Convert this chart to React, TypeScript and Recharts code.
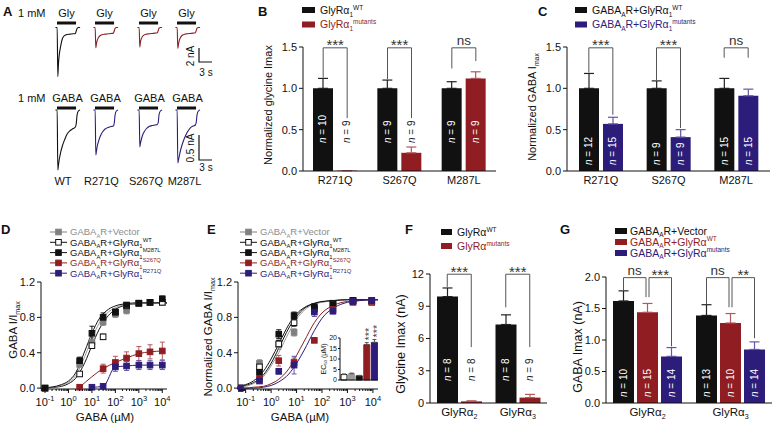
import React from 'react';
import {
  BarChart, Bar, XAxis, YAxis, ErrorBar, LabelList, ReferenceLine, Cell,
  LineChart, Line, ComposedChart, Scatter,
} from 'recharts';

const FONT = '"Liberation Sans", Arial, Helvetica, sans-serif';
const INK = '#111111';
const RED = '#8f1d21';
const BLUE = '#2d1d7a';
const GRAY = '#808080';
const RED_ERR = '#b4585c';
const BLUE_ERR = '#6356a6';
const LINE_GRAY = '#555555';

// ---------- A: example currents (nA) ----------
const traceGroups = ['WT', 'R271Q', 'S267Q', 'M287L'];
const traceTime = [-0.4, 0, 0.15, 0.3, 0.5, 0.8, 1.2, 1.7, 2.3, 3.0, 3.7, 4.2, 4.4, 4.6, 4.9, 5.3];
const glyTraces = [
  [0, 0, -7.0, -5.2, -3.8, -2.7, -1.6, -1.15, -1.0, -0.95, -0.9, -0.85, -0.5, -0.15, 0, 0],
  [0, 0, -2.9, -2.3, -1.8, -1.4, -1.15, -1.0, -0.95, -0.9, -0.85, -0.8, -0.5, -0.15, 0, 0],
  [0, 0, -2.8, -2.1, -1.6, -1.25, -1.05, -0.95, -0.9, -0.85, -0.8, -0.75, -0.45, -0.1, 0, 0],
  [0, 0, -3.0, -2.4, -1.85, -1.4, -1.1, -0.95, -0.9, -0.85, -0.8, -0.75, -0.45, -0.1, 0, 0],
];
const gabaTraces = [
  [0, 0, -1.2, -1.1, -0.98, -0.85, -0.72, -0.6, -0.48, -0.41, -0.37, -0.34, -0.28, -0.1, -0.02, 0],
  [0, 0, -0.9, -0.82, -0.72, -0.62, -0.52, -0.44, -0.38, -0.35, -0.33, -0.32, -0.27, -0.1, -0.02, 0],
  [0, 0, -0.74, -0.67, -0.59, -0.5, -0.43, -0.37, -0.33, -0.31, -0.3, -0.29, -0.25, -0.09, -0.02, 0],
  [0, 0, -1.06, -1.0, -0.92, -0.8, -0.68, -0.56, -0.45, -0.36, -0.32, -0.3, -0.25, -0.09, -0.02, 0],
];
const applySeconds = 4.4;
const glyScaleBar = { nA: 2, s: 3 };
const gabaScaleBar = { nA: 0.5, s: 3 };

// ---------- B / C: normalized Imax ----------
const mutantSites = ['R271Q', 'S267Q', 'M287L'];
const glyWtMean = [1.0, 1.0, 1.0];
const glyWtSem = [0.12, 0.1, 0.08];
const glyMutMean = [0.005, 0.22, 1.12];
const glyMutSem = [0.0, 0.07, 0.08];
const glyWtN = [10, 9, 9];
const glyMutN = [9, 9, 9];
const glyBrackets = [
  { cat: 'R271Q', from: 0, to: 1, top: 1.49, left: 1.13, right: 0.64, mark: '***' },
  { cat: 'S267Q', from: 0, to: 1, top: 1.49, left: 1.11, right: 0.64, mark: '***' },
  { cat: 'M287L', from: 0, to: 1, top: 1.49, left: 1.24, right: 1.33, mark: 'ns' },
];

const gabaWtMean = [1.0, 1.0, 1.0];
const gabaWtSem = [0.18, 0.09, 0.12];
const gabaMutMean = [0.57, 0.41, 0.91];
const gabaMutSem = [0.08, 0.09, 0.08];
const gabaWtN = [12, 9, 15];
const gabaMutN = [15, 9, 15];
const gabaBrackets = [
  { cat: 'R271Q', from: 0, to: 1, top: 1.49, left: 1.19, right: 0.68, mark: '***' },
  { cat: 'S267Q', from: 0, to: 1, top: 1.49, left: 1.1, right: 0.52, mark: '***' },
  { cat: 'M287L', from: 0, to: 1, top: 1.49, left: 1.37, right: 1.37, mark: 'ns' },
];

// ---------- D / E: GABA dose-response ----------
const dConc = [0.1, 3, 10, 30, 100, 300, 1000, 3000, 10000];
const dVector = [0, 0.27, 0.52, 0.75, 0.84, 0.88, 0.96, 0.97, 0.97];
const dVectorSem = [0.01, 0.03, 0.05, 0.04, 0.04, 0.04, 0.03, 0.03, 0.03];
const dWt = [0, 0.16, 0.48, 0.58, 0.86, 0.93, 0.96, 0.97, 0.97];
const dWtSem = [0.01, 0.02, 0.03, 0.03, 0.03, 0.02, 0.02, 0.02, 0.02];
const dM287L = [0, 0.31, 0.62, 0.8, 0.86, 0.94, 0.96, 0.97, 1.01];
const dM287LSem = [0.01, 0.04, 0.08, 0.05, 0.03, 0.02, 0.02, 0.02, 0.03];
const dS267QConc = [3, 30, 100, 300, 1000, 3000, 10000];
const dS267Q = [0.01, 0.22, 0.29, 0.34, 0.39, 0.41, 0.42];
const dS267QSem = [0.01, 0.05, 0.07, 0.07, 0.08, 0.08, 0.1];
const dR271QConc = [10, 30, 100, 300, 1000, 3000, 10000];
const dR271Q = [0.01, 0.02, 0.24, 0.25, 0.26, 0.26, 0.26];
const dR271QSem = [0.01, 0.01, 0.05, 0.05, 0.05, 0.05, 0.05];

const fitConc = [0.05, 0.1, 0.2, 0.5, 1, 2, 5, 10, 20, 50, 100, 300, 1000, 3000, 10000, 20000];
const dFitM287L = [0.002, 0.005, 0.012, 0.04, 0.08, 0.17, 0.42, 0.62, 0.78, 0.89, 0.93, 0.955, 0.965, 0.965, 0.965, 0.965];
const dFitVector = [0.001, 0.004, 0.01, 0.03, 0.065, 0.14, 0.36, 0.56, 0.73, 0.86, 0.91, 0.945, 0.955, 0.96, 0.96, 0.96];
const dFitWt = [0.001, 0.003, 0.007, 0.02, 0.05, 0.11, 0.29, 0.48, 0.66, 0.82, 0.89, 0.94, 0.955, 0.96, 0.96, 0.96];

const eConc = [0.06, 0.35, 2, 8, 50, 270, 1650, 9000];
const eVector = [0, 0.28, 0.49, 0.63, 0.9, 0.95, 0.99, 0.99];
const eVectorSem = [0.01, 0.04, 0.05, 0.04, 0.03, 0.02, 0.01, 0.01];
const eWt = [0, 0.24, 0.5, 0.74, 0.9, 0.96, 0.99, 0.97];
const eWtSem = [0.01, 0.03, 0.04, 0.04, 0.03, 0.02, 0.01, 0.01];
const eM287L = [0, 0.18, 0.61, 0.82, 0.92, 0.95, 0.99, 0.99];
const eM287LSem = [0.01, 0.03, 0.05, 0.04, 0.03, 0.02, 0.01, 0.01];
const eS267Q = [0, 0.11, 0.31, 0.29, 0.54, 0.89, 0.97, 0.98];
const eS267QSem = [0.01, 0.03, 0.06, 0.05, 0.02, 0.03, 0.02, 0.01];
const eR271Q = [0, 0.08, 0.19, 0.26, 0.86, 0.87, 0.98, 0.99];
const eR271QSem = [0.01, 0.02, 0.03, 0.1, 0.05, 0.03, 0.01, 0.01];
const eFitM287L = [0.02, 0.04, 0.08, 0.19, 0.33, 0.5, 0.72, 0.84, 0.91, 0.96, 0.98, 0.99, 1, 1, 1, 1];
const eFitVector = [0.01, 0.02, 0.05, 0.13, 0.25, 0.4, 0.63, 0.78, 0.88, 0.95, 0.97, 0.99, 1, 1, 1, 1];
const eFitWt = [0.01, 0.03, 0.06, 0.15, 0.28, 0.45, 0.68, 0.81, 0.9, 0.955, 0.975, 0.99, 1, 1, 1, 1];
const eFitS267Q = [0, 0, 0.01, 0.02, 0.05, 0.1, 0.22, 0.37, 0.53, 0.74, 0.85, 0.94, 0.98, 0.99, 1, 1];
const eFitR271Q = [0, 0, 0, 0.01, 0.03, 0.07, 0.16, 0.28, 0.43, 0.65, 0.79, 0.91, 0.97, 0.99, 1, 1];

const ec50Groups = ['WT', 'Vector', 'M287L', 'S267Q', 'R271Q'];
const ec50Mean = [2.6, 3.0, 2.0, 16.8, 17.9];
const ec50Sem = [0.3, 0.3, 0.2, 1.0, 1.4];
const ec50Sig = ['', '', '', '***', '***'];

const doseLabels = [
  'GABA_{A}R+Vector',
  'GABA_{A}R+GlyRα_{1}^{WT}',
  'GABA_{A}R+GlyRα_{1}^{M287L}',
  'GABA_{A}R+GlyRα_{1}^{S267Q}',
  'GABA_{A}R+GlyRα_{1}^{R271Q}',
];

// ---------- F / G: GlyRα2 and α3 ----------
const subunits = ['GlyRα_{2}', 'GlyRα_{3}'];
const fWtMean = [9.9, 7.3];
const fWtSem = [0.8, 0.9];
const fMutMean = [0.15, 0.5];
const fMutSem = [0.05, 0.3];
const fWtN = [8, 8];
const fMutN = [8, 9];
const fBrackets = [
  { cat: subunits[0], from: 0, to: 1, top: 11.98, left: 10.8, right: 5.2, mark: '***' },
  { cat: subunits[1], from: 0, to: 1, top: 11.98, left: 8.9, right: 5.2, mark: '***' },
];

const gVecMean = [1.62, 1.39];
const gVecSem = [0.16, 0.17];
const gWtMean = [1.44, 1.27];
const gWtSem = [0.14, 0.15];
const gMutMean = [0.74, 0.85];
const gMutSem = [0.14, 0.12];
const gVecN = [10, 13];
const gWtN = [15, 10];
const gMutN = [14, 14];
const gBrackets = [
  { cat: subunits[0], from: 0, to: 1, top: 1.99, left: 1.79, right: 1.68, mark: 'ns' },
  { cat: subunits[0], from: 1, to: 2, top: 1.99, left: 1.68, right: 0.9, mark: '***' },
  { cat: subunits[1], from: 0, to: 1, top: 1.99, left: 1.57, right: 1.52, mark: 'ns' },
  { cat: subunits[1], from: 1, to: 2, top: 1.99, left: 1.52, right: 1.03, mark: '**' },
];

// ---------- helpers ----------
function Rich({ s, x, y, size, fill = INK, anchor = 'start', rot = 0, weight = 'normal' }: any) {
  const parts = String(s).split(/(_\{[^}]*\}|\^\{[^}]*\})/).filter((p) => p.length > 0);
  let shift = 0;
  return (
    <text x={x} y={y} fontSize={size} fill={fill} textAnchor={anchor} fontWeight={weight} fontFamily={FONT}
      transform={rot ? `rotate(${rot} ${x} ${y})` : undefined}>
      {parts.map((p, i) => {
        let target = 0;
        let txt = p;
        let fs = size;
        if (p.startsWith('_{')) { target = size * 0.28; txt = p.slice(2, -1); fs = size * 0.62; }
        else if (p.startsWith('^{')) { target = -size * 0.42; txt = p.slice(2, -1); fs = size * 0.62; }
        const dy = target - shift;
        shift = target;
        return <tspan key={i} dy={dy} fontSize={fs}>{txt}</tspan>;
      })}
    </text>
  );
}

// vertical axis title centred on (cx, cy)
const VTitle = ({ s, cx, cy, size = 11 }: any) => (
  <Rich s={s} x={cx + size * 0.36} y={cy} size={size} anchor="middle" rot={-90} />
);

const viewOf = (p: any) => (p.viewBox && typeof p.viewBox.width === 'number' ? p.viewBox : p);

const nLabel = (lift: number) => (p: any) => {
  const { x, y, width, height } = viewOf(p);
  if (x == null) return null;
  const base = y + height - lift;
  const len = String(p.value).length > 1 ? 27 : 22;
  const inside = y < base - len;
  return (
    <text transform={`translate(${x + width / 2 + 3.4},${base}) rotate(-90)`} fontSize={10}
      fill={inside ? '#ffffff' : '#222222'} fontFamily={FONT}>
      <tspan fontStyle="italic">n</tspan> = {p.value}
    </text>
  );
};

const bracketShape = (br: any, offsets: number[]) => (p: any) => {
  const { x1, y1, y2 } = p;
  if (x1 == null) return <g />;
  const per = (y2 - y1) / (br.top - br.left);
  const yR = y1 + (br.right - br.left) * per;
  let xl = x1 + offsets[br.from];
  let xr = x1 + offsets[br.to];
  if (offsets.length === 3) {
    if (br.from === 1) xl += 1.5;
    if (br.to === 1) xr -= 1.5;
  }
  const stars = br.mark !== 'ns';
  return (
    <g>
      <path d={`M${xl},${y1}V${y2}H${xr}V${yR}`} fill="none" stroke={LINE_GRAY} strokeWidth={1} />
      <text x={(xl + xr) / 2} y={stars ? y2 + 2.5 : y2 - 3} textAnchor="middle" fontSize={stars ? 15 : 13.5}
        fill="#333" fontFamily={FONT}>{br.mark}</text>
    </g>
  );
};

const CatTick = (p: any) => (
  <Rich s={p.payload.value} x={p.x} y={p.y + 13} size={p.size} anchor="middle" />
);

function BarPanel({ data, series, plot, yAxisW, yDomain, yTicks, yFmt, barSize, barGap, brackets, lift, catSize, padRight }: any) {
  const [l, t, r, b] = plot;
  const xh = 22;
  const padTop = 14;
  const k = series.length;
  const offsets = series.map((_: any, i: number) => (i - (k - 1) / 2) * (barSize + barGap));
  return (
    <div style={{ position: 'absolute', left: l - yAxisW, top: t - padTop }}>
      <BarChart width={r - l + yAxisW + padRight} height={b - t + padTop + xh} data={data}
        margin={{ top: padTop, right: padRight, bottom: 0, left: 0 }} barSize={barSize} barGap={barGap}>
        <XAxis dataKey="cat" interval={0} tickLine={false} tickSize={0} tickMargin={0} height={xh}
          axisLine={{ stroke: INK }} tick={(p: any) => <CatTick {...p} size={catSize} />} />
        <YAxis width={yAxisW} domain={yDomain} ticks={yTicks} interval={0} tickFormatter={yFmt}
          tickSize={4} tickMargin={2} axisLine={{ stroke: INK }} tickLine={{ stroke: INK }}
          tick={{ fontSize: 11, fill: INK, fontFamily: FONT }} />
        {series.map((s: any) => (
          <Bar key={s.key} dataKey={s.key} fill={s.fill} isAnimationActive={false}>
            <ErrorBar dataKey={s.eKey} width={5} stroke={s.err} strokeWidth={1.2} />
            <LabelList dataKey={s.nKey} content={nLabel(lift)} />
          </Bar>
        ))}
        {brackets.map((br: any, i: number) => (
          <ReferenceLine key={i} ifOverflow="visible"
            segment={[{ x: br.cat, y: br.left }, { x: br.cat, y: br.top }]}
            shape={bracketShape(br, offsets)} />
        ))}
      </BarChart>
    </div>
  );
}

// ---------- D / E ----------
const D_DOMAIN = [0.0676, 15849];
const E_DOMAIN = [0.0501, 15849];
const ticksFor = (dom: number[]) => {
  const out: number[] = [];
  for (let e = -2; e <= 4; e++) {
    for (let m = 1; m <= 9; m++) {
      const v = m * Math.pow(10, e);
      if (v >= dom[0] && v <= dom[1]) out.push(v);
    }
  }
  return out;
};

const LogTick = (p: any) => {
  const v = p.payload.value;
  const e = Math.round(Math.log10(v));
  const major = Math.abs(Math.log10(v) - e) < 1e-6;
  return (
    <g>
      <line x1={p.x} x2={p.x} y1={p.y} y2={p.y + (major ? 4 : 2)} stroke={INK} strokeWidth={1} />
      {major && (
        <text x={p.x} y={p.y + 16.5} textAnchor="middle" fontSize={11} fill={INK} fontFamily={FONT}>
          10<tspan dy={-4.5} fontSize={7.5}>{e}</tspan>
        </text>
      )}
    </g>
  );
};

const toPts = (conc: number[], vals: number[], sem?: number[]) =>
  conc.map((c, i) => ({ c, v: vals[i], e: sem ? sem[i] : 0 }));

const square = (fill: string, stroke: string) => (p: any) => (
  <rect x={p.cx - 2.8} y={p.cy - 2.8} width={5.6} height={5.6} fill={fill} stroke={stroke} strokeWidth={1} />
);

function DosePanel({ plot, domain, fits, sets }: any) {
  const [l, t, r, b] = plot;
  const yw = 32;
  const xh = 24;
  const pt = 6;
  const pr = 4;
  return (
    <div style={{ position: 'absolute', left: l - yw, top: t - pt }}>
      <ComposedChart width={r - l + yw + pr} height={b - t + pt + xh} margin={{ top: pt, right: pr, bottom: 0, left: 0 }}>
        <XAxis dataKey="c" type="number" scale="log" domain={domain} allowDataOverflow ticks={ticksFor(domain)}
          interval={0} tickLine={false} tickSize={0} tickMargin={0} height={xh} axisLine={{ stroke: INK }}
          tick={(p: any) => <LogTick {...p} />} />
        <YAxis type="number" domain={[0, 1.2]} ticks={[0, 0.4, 0.8, 1.2]} interval={0} width={yw}
          tickFormatter={(v: number) => v.toFixed(1)} tickSize={4} tickMargin={2}
          axisLine={{ stroke: INK }} tickLine={{ stroke: INK }} tick={{ fontSize: 11, fill: INK, fontFamily: FONT }} />
        {fits.map((f: any, i: number) => (
          <Line key={'f' + i} data={f.data} dataKey="v" type="monotone" stroke={f.color} strokeWidth={1}
            dot={false} isAnimationActive={false} />
        ))}
        {sets.map((s: any, i: number) => (
          <Scatter key={'s' + i} data={s.data} dataKey="v" fill={s.fill} shape={square(s.fill, s.stroke)} isAnimationActive={false}>
            <ErrorBar dataKey="e" direction="y" width={2.5} stroke={s.err} strokeWidth={1} />
          </Scatter>
        ))}
      </ComposedChart>
    </div>
  );
}

const sigLabel = (p: any) => {
  const { x, y, width, height } = viewOf(p);
  if (!p.value || x == null) return null;
  const i = p.index;
  const per = height / ec50Mean[i];
  const bottom = y - ec50Sem[i] * per - 2;
  return (
    <text transform={`translate(${x + width / 2 + 6.2},${bottom}) rotate(-90)`} fontSize={11} fill="#444" fontFamily={FONT}>
      {p.value}
    </text>
  );
};

// ---------- A ----------
const PX_PER_S = 4.33;
const onsets = [57, 95, 139, 177];
const rowTop = { pxPerNA: 7, base: 27, domain: [-8, 0.5] };
const rowBottom = { pxPerNA: 50, base: 110, domain: [-1.3, 0.1] };

function Trace({ values, color, onset, row }: any) {
  const data = traceTime.map((t, i) => ({ t, i: values[i] }));
  const h = (row.domain[1] - row.domain[0]) * row.pxPerNA;
  return (
    <div style={{ position: 'absolute', left: onset - 0.5 * PX_PER_S, top: row.base - row.domain[1] * row.pxPerNA }}>
      <LineChart width={6 * PX_PER_S} height={h} data={data} margin={{ top: 0, right: 0, bottom: 0, left: 0 }}>
        <XAxis dataKey="t" type="number" domain={[-0.5, 5.5]} hide />
        <YAxis type="number" domain={row.domain} hide />
        <Line dataKey="i" type="monotone" stroke={color} strokeWidth={1.1} dot={false} isAnimationActive={false} />
      </LineChart>
    </div>
  );
}

export default function App() {
  const bData = mutantSites.map((cat, i) => ({
    cat, wt: glyWtMean[i], wtE: [0, glyWtSem[i]], wtN: glyWtN[i],
    mut: glyMutMean[i], mutE: [0, glyMutSem[i]], mutN: glyMutN[i],
  }));
  const cData = mutantSites.map((cat, i) => ({
    cat, wt: gabaWtMean[i], wtE: [0, gabaWtSem[i]], wtN: gabaWtN[i],
    mut: gabaMutMean[i], mutE: [0, gabaMutSem[i]], mutN: gabaMutN[i],
  }));
  const fData = subunits.map((cat, i) => ({
    cat, wt: fWtMean[i], wtE: [0, fWtSem[i]], wtN: fWtN[i],
    mut: fMutMean[i], mutE: [0, fMutSem[i]], mutN: fMutN[i],
  }));
  const gData = subunits.map((cat, i) => ({
    cat, vec: gVecMean[i], vecE: [0, gVecSem[i]], vecN: gVecN[i],
    wt: gWtMean[i], wtE: [0, gWtSem[i]], wtN: gWtN[i],
    mut: gMutMean[i], mutE: [0, gMutSem[i]], mutN: gMutN[i],
  }));
  const ec50Data = ec50Groups.map((g, i) => ({ g, v: ec50Mean[i], e: [0, ec50Sem[i]], sig: ec50Sig[i] }));
  const ec50Fill = ['#ffffff', '#9a9a9a', INK, RED, BLUE];

  const doseStyle = [
    { text: '#8c8c8c', line: GRAY, fill: GRAY, stroke: GRAY },
    { text: INK, line: INK, fill: '#ffffff', stroke: INK },
    { text: INK, line: INK, fill: INK, stroke: INK },
    { text: RED, line: RED, fill: RED, stroke: RED },
    { text: BLUE, line: BLUE, fill: BLUE, stroke: BLUE },
  ];

  const dLegend = (lx: number) => doseLabels.map((lab, i) => {
    const cy = 232 + 10.3 * i;
    const st = doseStyle[i];
    return (
      <g key={lab + lx}>
        <line x1={lx} x2={lx + 17} y1={cy} y2={cy} stroke={st.line} strokeWidth={1} />
        <rect x={lx + 5.7} y={cy - 2.8} width={5.6} height={5.6} fill={st.fill} stroke={st.stroke} />
        <Rich s={lab} x={lx + 20} y={cy + 3.3} size={9.5} fill={st.text} />
      </g>
    );
  });

  const topScale = glyScaleBar.nA * rowTop.pxPerNA;
  const botScale = gabaScaleBar.nA * rowBottom.pxPerNA;
  const sLen = glyScaleBar.s * PX_PER_S;

  return (
    <div style={{ position: 'absolute', left: 0, top: 0, width: 773, height: 425, background: '#fff', fontFamily: FONT, overflow: 'hidden' }}>
      {glyTraces.map((v, i) => (
        <Trace key={'g' + i} values={v} color={i === 0 ? INK : RED} onset={onsets[i]} row={rowTop} />
      ))}
      {gabaTraces.map((v, i) => (
        <Trace key={'a' + i} values={v} color={i === 0 ? INK : BLUE} onset={onsets[i]} row={rowBottom} />
      ))}

      <BarPanel data={bData} plot={[303, 47, 496, 171]} yAxisW={40} yDomain={[0, 1.5]} yTicks={[0, 0.5, 1, 1.5]}
        yFmt={(v: number) => v.toFixed(1)} barSize={20} barGap={4} brackets={glyBrackets} lift={28} catSize={11} padRight={4}
        series={[
          { key: 'wt', eKey: 'wtE', nKey: 'wtN', fill: INK, err: '#222' },
          { key: 'mut', eKey: 'mutE', nKey: 'mutN', fill: RED, err: RED_ERR },
        ]} />
      <BarPanel data={cData} plot={[567, 47, 770, 171]} yAxisW={40} yDomain={[0, 1.5]} yTicks={[0, 0.5, 1, 1.5]}
        yFmt={(v: number) => v.toFixed(1)} barSize={20} barGap={4} brackets={gabaBrackets} lift={6} catSize={11} padRight={2}
        series={[
          { key: 'wt', eKey: 'wtE', nKey: 'wtN', fill: INK, err: '#222' },
          { key: 'mut', eKey: 'mutE', nKey: 'mutN', fill: BLUE, err: BLUE_ERR },
        ]} />

      <DosePanel plot={[41, 282, 167, 389]} domain={D_DOMAIN}
        fits={[
          { data: toPts(fitConc, dFitWt), color: INK },
          { data: toPts(fitConc, dFitVector), color: '#9a9a9a' },
          { data: toPts(fitConc, dFitM287L), color: INK },
          { data: toPts(dS267QConc, dS267Q), color: RED },
          { data: toPts(dR271QConc, dR271Q), color: BLUE },
        ]}
        sets={[
          { data: toPts(dConc, dVector, dVectorSem), fill: GRAY, stroke: GRAY, err: GRAY },
          { data: toPts(dConc, dWt, dWtSem), fill: '#ffffff', stroke: INK, err: INK },
          { data: toPts(dConc, dM287L, dM287LSem), fill: INK, stroke: INK, err: INK },
          { data: toPts(dS267QConc, dS267Q, dS267QSem), fill: RED, stroke: RED, err: RED_ERR },
          { data: toPts(dR271QConc, dR271Q, dR271QSem), fill: BLUE, stroke: BLUE, err: BLUE_ERR },
        ]} />
      <DosePanel plot={[238, 282, 378, 389]} domain={E_DOMAIN}
        fits={[
          { data: toPts(fitConc, eFitWt), color: INK },
          { data: toPts(fitConc, eFitVector), color: '#9a9a9a' },
          { data: toPts(fitConc, eFitM287L), color: INK },
          { data: toPts(fitConc, eFitS267Q), color: RED },
          { data: toPts(fitConc, eFitR271Q), color: BLUE },
        ]}
        sets={[
          { data: toPts(eConc, eVector, eVectorSem), fill: GRAY, stroke: GRAY, err: GRAY },
          { data: toPts(eConc, eWt, eWtSem), fill: '#ffffff', stroke: INK, err: INK },
          { data: toPts(eConc, eM287L, eM287LSem), fill: INK, stroke: INK, err: INK },
          { data: toPts(eConc, eS267Q, eS267QSem), fill: RED, stroke: RED, err: RED_ERR },
          { data: toPts(eConc, eR271Q, eR271QSem), fill: BLUE, stroke: BLUE, err: BLUE_ERR },
        ]} />

      {/* E inset: EC50 */}
      <div style={{ position: 'absolute', left: 340 - 14, top: 338 - 22 }}>
        <BarChart width={38 + 14 + 8} height={42 + 22 + 6} data={ec50Data} margin={{ top: 22, right: 8, bottom: 0, left: 0 }} barSize={6}>
          <XAxis dataKey="g" tick={false} tickLine={false} axisLine={{ stroke: INK }} height={6} interval={0} />
          <YAxis domain={[0, 20]} ticks={[0, 5, 10, 15, 20]} interval={0} width={14} tickSize={2} tickMargin={1}
            axisLine={{ stroke: INK }} tickLine={{ stroke: INK }} tick={{ fontSize: 7, fill: INK, fontFamily: FONT }} />
          <Bar dataKey="v" isAnimationActive={false}>
            {ec50Data.map((d, i) => (
              <Cell key={d.g} fill={ec50Fill[i]} stroke={i === 0 ? INK : ec50Fill[i]} strokeWidth={1} />
            ))}
            <ErrorBar dataKey="e" width={2} stroke="#555" strokeWidth={1} />
            <LabelList dataKey="sig" content={sigLabel} />
          </Bar>
        </BarChart>
      </div>

      <BarPanel data={fData} plot={[430, 274, 547, 403]} yAxisW={28} yDomain={[0, 12]} yTicks={[0, 3, 6, 9, 12]}
        yFmt={(v: number) => String(v)} barSize={21} barGap={3} brackets={fBrackets} lift={22} catSize={11.5} padRight={4}
        series={[
          { key: 'wt', eKey: 'wtE', nKey: 'wtN', fill: INK, err: '#222' },
          { key: 'mut', eKey: 'mutE', nKey: 'mutN', fill: RED, err: RED_ERR },
        ]} />
      <BarPanel data={gData} plot={[606, 277, 772, 403]} yAxisW={28} yDomain={[0, 2]} yTicks={[0, 0.5, 1, 1.5, 2]}
        yFmt={(v: number) => v.toFixed(1)} barSize={21} barGap={3} brackets={gBrackets} lift={6} catSize={11.5} padRight={0}
        series={[
          { key: 'vec', eKey: 'vecE', nKey: 'vecN', fill: INK, err: '#222' },
          { key: 'wt', eKey: 'wtE', nKey: 'wtN', fill: RED, err: RED_ERR },
          { key: 'mut', eKey: 'mutE', nKey: 'mutN', fill: BLUE, err: BLUE_ERR },
        ]} />

      {/* labels, legends and scale bars */}
      <svg width={773} height={425} style={{ position: 'absolute', left: 0, top: 0, pointerEvents: 'none' }}>
        {[['A', 3, 16], ['B', 258, 16], ['C', 538, 16], ['D', 1, 234], ['E', 207, 234], ['F', 405, 234], ['G', 560, 234]].map(([t, x, y]) => (
          <text key={t as string} x={x as number} y={y as number} fontSize={13} fontWeight="bold" fill={INK} fontFamily={FONT}>{t}</text>
        ))}

        {/* A */}
        <text x={18} y={17} fontSize={11} fill={INK} fontFamily={FONT}>1 mM</text>
        <text x={18} y={102} fontSize={11} fill={INK} fontFamily={FONT}>1 mM</text>
        {onsets.map((o, i) => (
          <g key={'app' + i}>
            <text x={o + 9.5} y={17} fontSize={11} textAnchor="middle" fill={INK} fontFamily={FONT}>Gly</text>
            <rect x={o} y={21.5} width={applySeconds * PX_PER_S} height={3} fill={INK} />
            <text x={o + 10.5} y={102} fontSize={11} textAnchor="middle" fill={INK} fontFamily={FONT}>GABA</text>
            <rect x={o} y={106.5} width={applySeconds * PX_PER_S} height={3} fill={INK} />
            <text x={o + 6 + i * 0.5} y={185} fontSize={11} textAnchor="middle" fill={INK} fontFamily={FONT}>{traceGroups[i]}</text>
          </g>
        ))}
        <path d={`M199,${62 - topScale}V62H${199 + sLen}`} fill="none" stroke={INK} strokeWidth={1.2} />
        <VTitle s={`${glyScaleBar.nA} nA`} cx={190} cy={56} size={10} />
        <text x={206} y={76} fontSize={10} textAnchor="middle" fill={INK} fontFamily={FONT}>{glyScaleBar.s} s</text>
        <path d={`M199,${160 - botScale}V160H${199 + sLen}`} fill="none" stroke={INK} strokeWidth={1.2} />
        <VTitle s={`${gabaScaleBar.nA} nA`} cx={190} cy={148} size={10} />
        <text x={206} y={171} fontSize={10} textAnchor="middle" fill={INK} fontFamily={FONT}>{gabaScaleBar.s} s</text>

        {/* B */}
        <rect x={302} y={7} width={13} height={6} fill={INK} />
        <Rich s="GlyRα_{1}^{WT}" x={320} y={14} size={10.5} />
        <rect x={302} y={21.5} width={13} height={6} fill={RED} />
        <Rich s="GlyRα_{1}^{mutants}" x={320} y={28} size={10.5} fill={RED} />
        <VTitle s="Normalized glycine Imax" cx={268} cy={105} size={11} />

        {/* C */}
        <rect x={575} y={7} width={12} height={6} fill={INK} />
        <Rich s="GABA_{A}R+GlyRα_{1}^{WT}" x={592} y={14} size={10.5} />
        <rect x={575} y={21.5} width={12} height={6} fill={BLUE} />
        <Rich s="GABA_{A}R+GlyRα_{1}^{mutants}" x={592} y={28} size={10.5} fill={BLUE} />
        <VTitle s="Normalized GABA I_{max}" cx={532} cy={107} size={11} />

        {/* D / E */}
        {dLegend(50)}
        {dLegend(240)}
        <VTitle s="GABA I/I_{max}" cx={12.5} cy={330} size={11.5} />
        <text x={105} y={421} fontSize={11.5} textAnchor="middle" fill={INK} fontFamily={FONT}>GABA (µM)</text>
        <VTitle s="Normalized GABA I/I_{max}" cx={208} cy={337} size={11.5} />
        <text x={300} y={421} fontSize={11.5} textAnchor="middle" fill={INK} fontFamily={FONT}>GABA (µM)</text>
        <VTitle s="EC_{50} (µM)" cx={323} cy={359} size={7} />

        {/* F */}
        <rect x={441} y={229} width={11} height={6} fill={INK} />
        <Rich s="GlyRα^{WT}" x={457} y={236} size={10.5} />
        <rect x={441} y={243} width={11} height={6} fill={RED} />
        <Rich s="GlyRα^{mutants}" x={457} y={250} size={10.5} fill={RED} />
        <VTitle s="Glycine Imax (nA)" cx={400} cy={344} size={12.5} />

        {/* G */}
        <rect x={615} y={228} width={12} height={6} fill={INK} />
        <Rich s="GABA_{A}R+Vector" x={630} y={234.5} size={10.5} />
        <rect x={615} y={239} width={12} height={6} fill={RED} />
        <Rich s="GABA_{A}R+GlyRα^{WT}" x={630} y={245.5} size={10.5} fill={RED} />
        <rect x={615} y={250} width={12} height={6} fill={BLUE} />
        <Rich s="GABA_{A}R+GlyRα^{mutants}" x={630} y={256.5} size={10.5} fill={BLUE} />
        <VTitle s="GABA Imax (nA)" cx={577} cy={347} size={12.5} />
      </svg>
    </div>
  );
}
